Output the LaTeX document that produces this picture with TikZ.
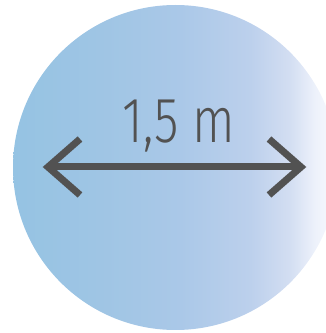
\documentclass[tikz,border=0pt]{standalone}
\usepackage{fontspec}
\newfontfamily\handfont{Fira Sans Light}
\usetikzlibrary{positioning}

\definecolor{discA}{HTML}{95C3E3}
\definecolor{discB}{HTML}{9FC5E4}
\definecolor{discC}{HTML}{AAC8E8}
\definecolor{discD}{HTML}{BCD0EC}
\definecolor{discE}{HTML}{D3DEF2}
\definecolor{discF}{HTML}{EEF2FB}
\definecolor{discG}{HTML}{F8F9FE}
\definecolor{inkgray}{HTML}{525252}

\pgfdeclarehorizontalshading{discfade}{100bp}{color(0bp)=(discA); color(25bp)=(discA);
  color(38.4bp)=(discB); color(50.7bp)=(discC); color(61.5bp)=(discD);
  color(67.6bp)=(discE); color(71.6bp)=(discF); color(75bp)=(discG); color(100bp)=(discG)}

\tikzset{
  measure/.style={draw=inkgray, line width=7pt, line cap=butt, line join=miter},
  label/.style={text=inkgray, font=\handfont\fontsize{64}{64}\selectfont, inner sep=0pt, anchor=base}
}

\begin{document}
\begin{tikzpicture}[x=1pt, y=1pt]
\useasboundingbox (0,0) rectangle (326,333);
\clip (0,0) rectangle (326,333);
% disc
\shade[shading=discfade] (175.5,165.5) circle (162.5);
% measure line
\coordinate (lft) at (48,166);
\coordinate (rgt) at (301,166);
\draw[measure] (lft) -- (rgt);
\draw[measure] (lft) ++(32,28) -- (lft) -- ++(32,-28);
\draw[measure] (rgt) ++(-32,28) -- (rgt) -- ++(-32,-28);
\node[label, xscale=0.78] (size) at (179,190) {1,5 m};
\end{tikzpicture}
\end{document}
